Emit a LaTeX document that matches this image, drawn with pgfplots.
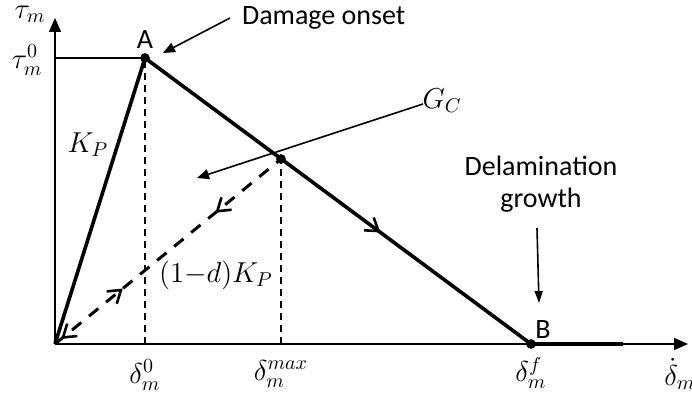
\documentclass[border=0pt]{standalone}
\usepackage{pgfplots}
\pgfplotsset{compat=1.18}
\usepackage{fontspec}
\setmainfont{Carlito}
\usetikzlibrary{arrows.meta,decorations.markings}

\begin{document}
\begin{tikzpicture}
\begin{axis}[
  x=0.5pt, y=0.5pt,
  xmin=0, xmax=633, ymin=0, ymax=326,
  axis lines=left,
  axis line style={line width=0.8pt,-{Triangle[length=7pt,width=6pt]}},
  xtick=\empty, ytick=\empty,
  clip=false,
  font=\fontsize{14}{16}\selectfont,
  every node/.append style={inner sep=0pt},
]
% corners of the drawing area
\coordinate (bl) at (axis cs:-55,-48);
\coordinate (tr) at (axis cs:637,344);

% peak traction level
\addplot[line width=0.9pt] coordinates {(0,286) (90,286)};
% guide lines down to the separations
\addplot[line width=0.6pt, dash pattern=on 3.5pt off 2.5pt] coordinates {(90,0) (90,286)};
\addplot[line width=0.6pt, dash pattern=on 3.5pt off 2.5pt] coordinates {(226,0) (226,185)};

% bilinear traction-separation law
\addplot[line width=1.8pt] coordinates {(0,0) (90,286)};
\addplot[line width=1.8pt, postaction=decorate,
  decoration={markings, mark=at position 0.61 with {\arrow{Straight Barb[length=6pt,width=8pt,line width=1.3pt]}}}]
  coordinates {(90,286) (476,0)};
\addplot[line width=1.8pt] coordinates {(476,0) (568,0)};

% unloading / reloading with degraded stiffness
\addplot[line width=1.5pt, dash pattern=on 6pt off 5pt, postaction=decorate,
  decoration={markings,
    mark=at position 4pt with {\arrowreversed{Straight Barb[length=6pt,width=8pt,line width=1.3pt]}},
    mark=at position 0.30 with {\arrow{Straight Barb[length=6pt,width=8pt,line width=1.3pt]}},
    mark=at position 0.71 with {\arrowreversed{Straight Barb[length=6pt,width=8pt,line width=1.3pt]}}}]
  coordinates {(0,0) (226,185)};

% key points
\addplot[only marks, mark=*, mark size=2.2pt] coordinates {(90,286) (226,185) (476,0)};

% annotation arrows
\draw[line width=0.8pt, -{Triangle[length=6pt,width=5pt]}] (axis cs:175,326) -- (axis cs:108,291);
\draw[line width=0.8pt, -{Triangle[length=6pt,width=5pt]}] (axis cs:368,240) -- (axis cs:142,166);
\draw[line width=0.8pt, -{Triangle[length=6pt,width=4pt]}] (axis cs:482,116) -- (axis cs:484,41);

% labels
\node[anchor=west] at (axis cs:180,326) {Damage onset};
\node at (axis cs:387,243) {$G_C$};
\node[align=center] at (axis cs:486,160) {Delamination\\growth};
\node at (axis cs:90,304) {A};
\node at (axis cs:488,14) {B};
\node at (axis cs:33,199) {$K_P$};
\node at (axis cs:161,69) {$(1{-}d)K_P$};
\node at (axis cs:-25,330) {$\tau_m$};
\node at (axis cs:-28,284) {$\tau_m^0$};
\node at (axis cs:90,-31) {$\delta_m^0$};
\node at (axis cs:226,-30) {$\delta_m^{max}$};
\node at (axis cs:476,-29) {$\delta_m^f$};
\node at (axis cs:625,-30) {$\dot{\delta}_m$};
\end{axis}
\pgfresetboundingbox
\path[use as bounding box] (bl) rectangle (tr);
\end{tikzpicture}
\end{document}
